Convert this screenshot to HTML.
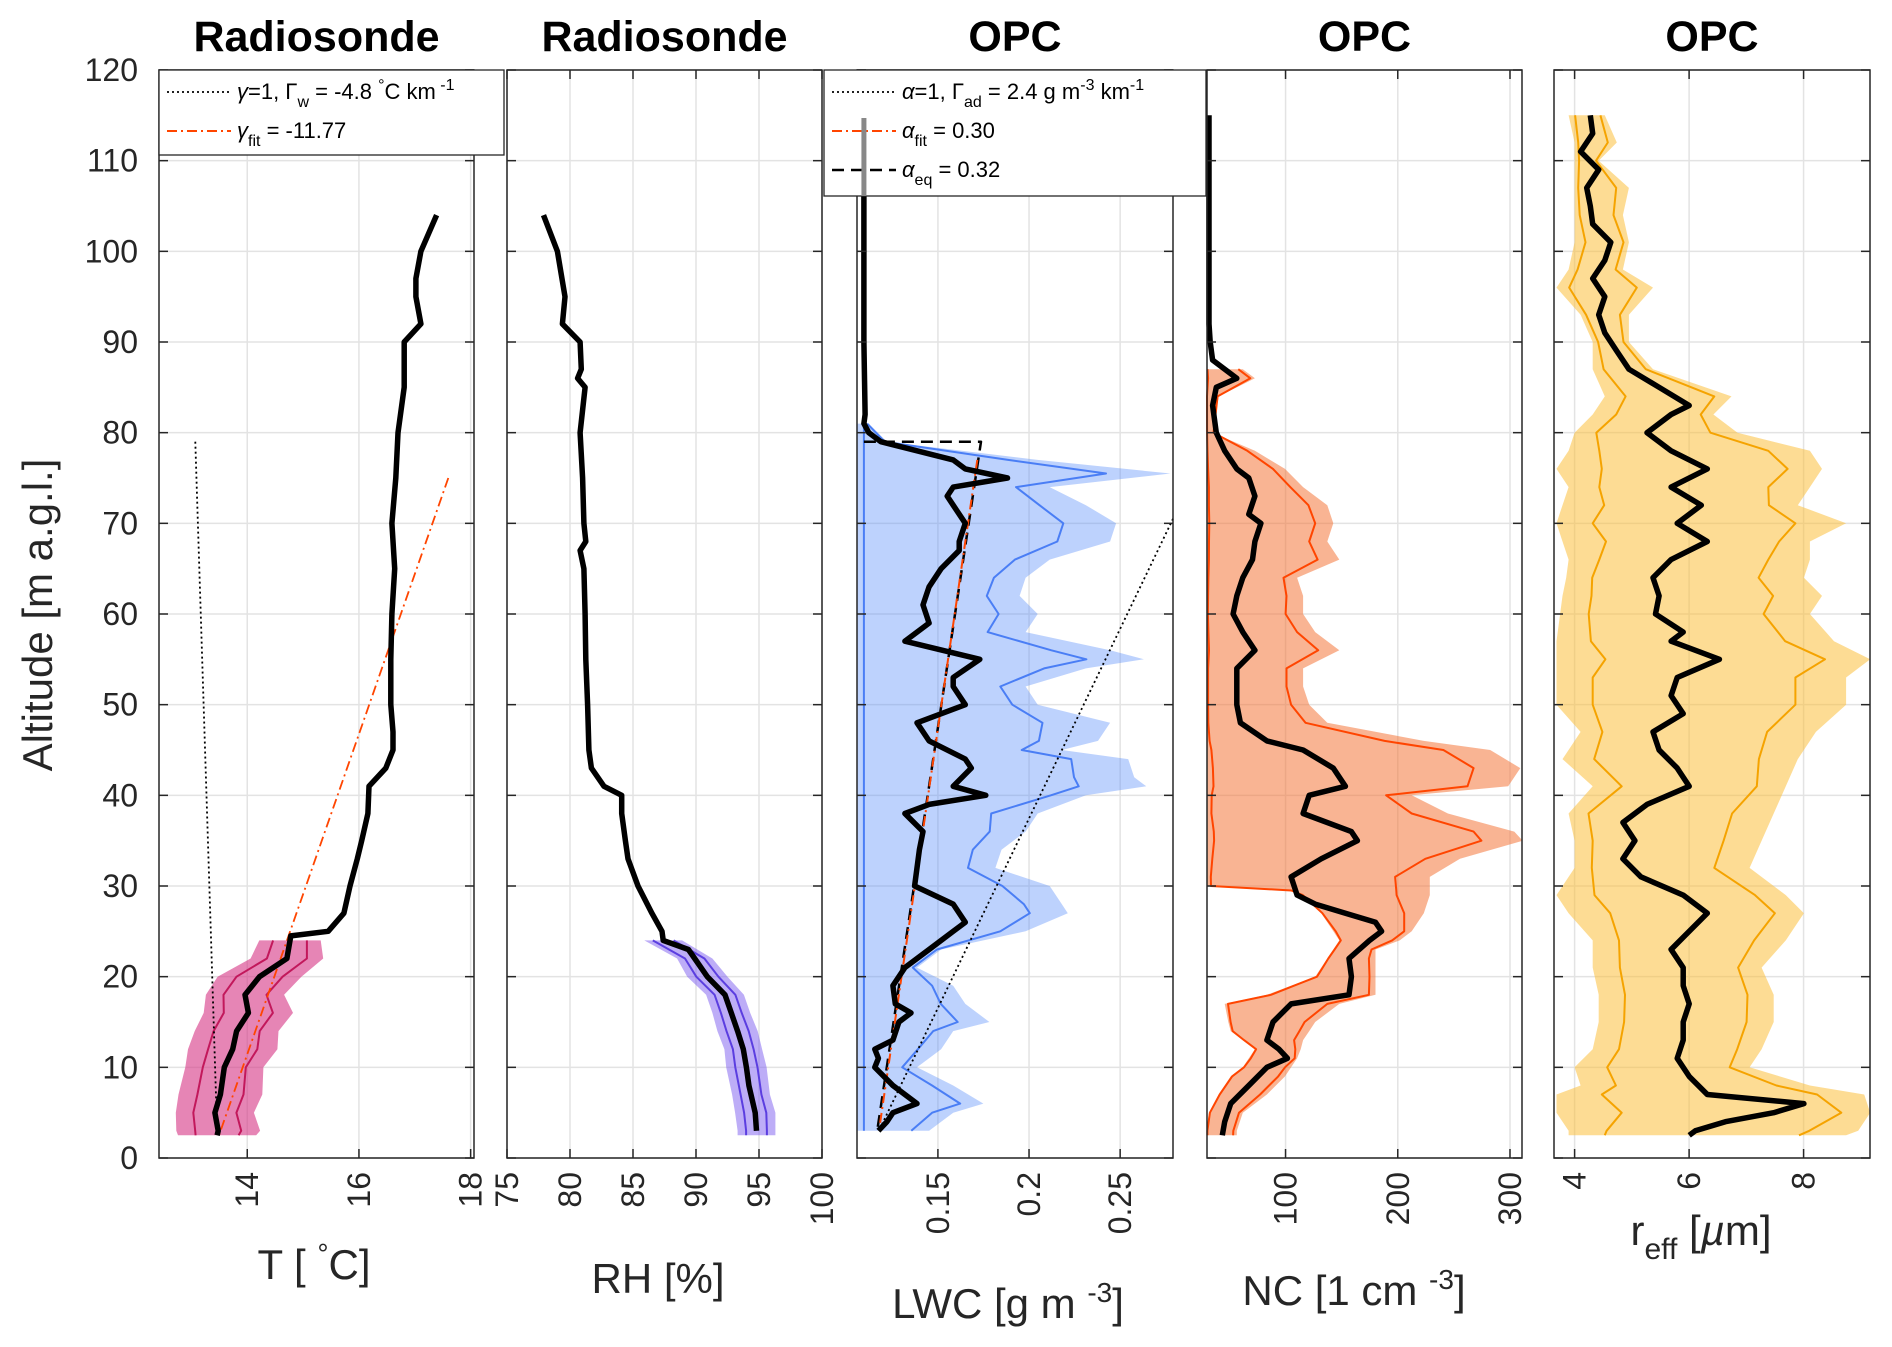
<!DOCTYPE html>
<html><head><meta charset="utf-8"><style>
body{margin:0;background:#fff;}
svg{display:block;font-family:"Liberation Sans",Arial,sans-serif;}
</style></head><body>
<svg id="chart" width="1892" height="1347" viewBox="0 0 1892 1347" xmlns="http://www.w3.org/2000/svg"></svg>
<script>
// ---------- data ----------
const yTicks=[0,10,20,30,40,50,60,70,80,90,100,110,120];
// Panel 1: temperature
const tAlt=[104,100,97,95,92,90,85,80,75,70,65,60,55,50,47,45,43,41,38,35,33,30,27,25,24.5,22,20,18,16,14,12,10,7,5,3,2.5];
const tVal=[17.39,17.11,17.02,17.02,17.11,16.81,16.81,16.70,16.66,16.59,16.64,16.59,16.57,16.57,16.61,16.61,16.48,16.18,16.16,16.05,15.97,15.84,15.73,15.45,14.78,14.71,14.22,13.96,14.02,13.81,13.74,13.59,13.52,13.42,13.48,13.46];
const tBandAlt=[24,22,20,18,16,14,12,10,7,5,3,2.5];
const tBandHalf=[0.55,0.65,0.75,0.7,0.8,0.75,0.8,0.7,0.75,0.7,0.75,0.7];
const tTicks=[14,16,18];
// Panel 2: RH
const rhAlt=[104,100,95,92,90,87,86,85,80,75,70,68,67,65,60,55,50,45,43,41,40,38,35,33,30,27,25,24,23,22,20,18,16,14,12,10,8,5,3];
const rhVal=[77.9,79.0,79.6,79.4,80.8,80.9,80.6,81.2,80.8,81.0,81.1,81.25,80.8,81.1,81.2,81.25,81.4,81.5,81.7,82.7,84.1,84.1,84.4,84.6,85.4,86.5,87.3,87.4,89.4,89.9,90.9,92.3,92.8,93.3,93.75,94.0,94.2,94.7,94.8];
const rhBandHalf=[1.5,1.4,1.6,1.5,1.5,1.6,1.5,1.6,1.5,1.6,1.5,1.5];
const rhTicks=[75,80,85,90,95,100];
// Panel 3: LWC
const lwcAlt=[115,90,82,81,80,79,78,77,76,75,74,73,72,70,68,67,65,63,61,59,57,55,53,52,50,48,46,44,43,41,40,39,38,36,34,32,30,28,26,25,23,21,19,17,16,15,13,12,11,10,8,6,5,4,3];
const lwcX=[716,716,717,716,720,730,760,790,800,835,790,785,790,800,795,795,780,770,765,770,750,812,790,790,800,760,770,800,805,790,817,770,750,765,762,760,758,790,800,790,770,750,740,742,755,745,740,725,728,725,740,760,740,735,728];
const lwcBandAlt=[81,79,77,75.5,74,72,70,68,66,64,62,60,58,56,55,54,52,50,48,46,45,44,42,41,40,38,36,34,32,30,28,27,25,23,21,19,17,15,14,12,10,8,6,5,3];
const lwcUpperX=[720,735,860,970,870,900,925,920,870,850,845,860,850,920,948,900,850,860,920,910,880,935,940,950,900,860,850,830,825,870,880,885,850,780,760,790,800,820,790,780,760,790,815,790,770];
const lwcTicks=[0.15,0.2,0.25];
// Panel 4: NC
const ncAlt=[115,92,90,88,87,86,85,83,80,78,76,75,73,71,70,68,66,64,62,60,58,56,54,52,50,48,46,45,43,41,40,38,36,35,33,31,29,28,27,26,25,24,22,20,18,17,15,13,12,11,10,8,6,4,2.5];
const ncX=[1002,1002,1003,1005,1015,1025,1008,1005,1008,1015,1025,1035,1040,1035,1045,1040,1038,1030,1025,1022,1030,1040,1025,1025,1025,1028,1050,1080,1105,1115,1085,1080,1120,1125,1095,1070,1075,1090,1115,1140,1145,1135,1118,1120,1118,1070,1055,1050,1060,1067,1050,1035,1020,1015,1013];
const ncBandAlt=[87,86,84,80,78,76,74,72,70,68,66,64,62,60,58,56,54,52,50,48,46,45,43,41,40,38,36,35,33,31,30,29.5,29,27,25,24,23,22,21,20,19,18,17,15,14,13,12,11,10,9,7,5,3,2.5];
const ncUpperX=[1030,1040,1010,1005,1040,1065,1080,1100,1105,1100,1110,1075,1080,1080,1090,1110,1080,1080,1085,1100,1180,1235,1260,1250,1170,1200,1255,1262,1210,1185,1185,1185,1185,1180,1170,1160,1140,1140,1140,1140,1140,1140,1110,1090,1085,1080,1078,1075,1070,1065,1050,1030,1025,1025];
const ncLowerX=[1000,1000,1000,1000,1000,1000,1000,1000,1000,1000,1000,1000,1000,1000,1000,1000,1000,1000,1000,1000,1000,1000,1000,1000,1000,1000,1000,1000,1000,1000,1000,1070,1080,1095,1105,1110,1105,1100,1095,1090,1070,1050,1015,1018,1020,1030,1040,1035,1030,1020,1010,1002,1000,1000];
const ncTicks=[100,200,300];
// Panel 5: r_eff
const reAlt=[115,113,111,109,107,105,103,101,99,97,95,93,91,89,87,85,83,82,80,78,76,74,72,70,68,66,64,62,60,58,57,55,53,51,49,47,45,43,41,39,37,35,33,31,29,27,25,23,21,19,17,15,13,11,9,7,6,5,4,3,2.5];
const reX=[1318,1320,1310,1325,1315,1318,1320,1335,1330,1320,1330,1325,1330,1340,1350,1375,1400,1385,1365,1385,1415,1385,1410,1390,1415,1385,1370,1375,1372,1395,1385,1425,1390,1385,1395,1370,1375,1390,1400,1365,1345,1355,1345,1360,1395,1415,1400,1385,1395,1395,1400,1395,1395,1390,1400,1415,1495,1470,1430,1405,1400];
const reBandAlt=[115,112,110,107,104,101,98,96,93,90,87,84,82,80,78,76,74,72,70,68,66,64,62,60,57,55,53,50,47,44,41,38,35,32,29,27,24,21,18,15,12,10,8,7,5,3,2.5];
const reLowerX=[1300,1305,1305,1305,1305,1305,1300,1290,1310,1320,1320,1330,1320,1305,1300,1290,1300,1295,1290,1295,1300,1298,1295,1293,1290,1290,1290,1290,1310,1295,1320,1300,1305,1305,1290,1300,1320,1320,1325,1325,1320,1305,1310,1290,1290,1300,1300];
const reUpperX=[1330,1340,1325,1350,1345,1350,1345,1370,1350,1350,1370,1435,1420,1440,1500,1510,1500,1490,1530,1500,1500,1495,1510,1500,1520,1550,1530,1530,1505,1490,1480,1470,1460,1450,1480,1495,1480,1460,1470,1470,1460,1450,1500,1545,1550,1540,1530];
const reTicks=[4,6,8];

// ---------- layout ----------
const S=1.2066;
const NS="http://www.w3.org/2000/svg";
const svg=document.getElementById('chart');
const Y0=1158,Y1=70;
const yS=a=>Y0+(Y1-Y0)*a/120;
const panels=[
 {x0:159,x1:474,d:[12.42,18.06]},
 {x0:507,x1:822,d:[75,100]},
 {x0:857,x1:1173,d:[0.1056,0.279]},
 {x0:1207,x1:1522,d:[30,310.7]},
 {x0:1554,x1:1870,d:[3.64,9.16]}];
panels.forEach(p=>{p.x=v=>p.x0+(p.x1-p.x0)*(v-p.d[0])/(p.d[1]-p.d[0]);
 p.inv=vx=>p.d[0]+(vx*S-p.x0)/(p.x1-p.x0)*(p.d[1]-p.d[0]);});
function el(tag,attrs,parent){const e=document.createElementNS(NS,tag);for(const k in attrs)e.setAttribute(k,attrs[k]);(parent||svg).appendChild(e);return e;}
const pts=(xs,ys)=>xs.map((x,i)=>x.toFixed(1)+','+ys[i].toFixed(1)).join(' ');
function interp(alts,vals,a){for(let i=0;i<alts.length-1;i++){const a0=alts[i],a1=alts[i+1];if((a<=a0&&a>=a1)){const t=(a-a0)/(a1-a0||1);return vals[i]+t*(vals[i+1]-vals[i]);}}return vals[a>alts[0]?0:vals.length-1];}

const titles=['Radiosonde','Radiosonde','OPC','OPC','OPC'];
const tickSets=[tTicks,rhTicks,lwcTicks,ncTicks,reTicks];

panels.forEach((p,i)=>{
 const g=el('g',{});
 
 
 p.g=g;
 yTicks.forEach(t=>{const l=el('line',{x1:p.x0,x2:p.x1,y1:yS(t),y2:yS(t),stroke:'#e3e3e3','stroke-width':1.5},g);});
 tickSets[i].forEach(t=>{const l=el('line',{x1:p.x(t),x2:p.x(t),y1:Y1,y2:Y0,stroke:'#e3e3e3','stroke-width':1.5},g);});
 const ti=el('text',{x:(p.x0+p.x1)/2,y:51,'text-anchor':'middle','font-size':43,'font-weight':'bold',fill:'#000'},svg);
 ti.textContent=titles[i];
 
 
});

function axesFrame(p,i){
 const g=el('g',{});
 
 
 el('rect',{x:p.x0,y:Y1,width:p.x1-p.x0,height:Y0-Y1,fill:'none',stroke:'#262626','stroke-width':1.5},g);
 yTicks.forEach(t=>{el('line',{x1:p.x0,x2:p.x0+9,y1:yS(t),y2:yS(t),stroke:'#262626','stroke-width':1.5},g);el('line',{x1:p.x1-9,x2:p.x1,y1:yS(t),y2:yS(t),stroke:'#262626','stroke-width':1.5},g);});
 tickSets[i].forEach(t=>{el('line',{x1:p.x(t),x2:p.x(t),y1:Y0,y2:Y0-9,stroke:'#262626','stroke-width':1.5},g);el('line',{x1:p.x(t),x2:p.x(t),y1:Y1,y2:Y1+9,stroke:'#262626','stroke-width':1.5},g);
  const tx=el('text',{transform:`translate(${p.x(t)+11},${Y0+14}) rotate(-90)`,'text-anchor':'end','font-size':32,fill:'#262626'},svg);
  tx.textContent=t;
  
  
 });
}

function band(p,alts,lo,hi,fill,op){
 const xs=[],ys=[];
 alts.forEach((a,k)=>{xs.push(p.x(hi[k]));ys.push(yS(a));});
 for(let k=alts.length-1;k>=0;k--){xs.push(p.x(lo[k]));ys.push(yS(alts[k]));}
 const b=el('polygon',{points:pts(xs,ys),fill:fill,'fill-opacity':op,stroke:'none'},p.g);
 
 
}
function line(p,alts,vals,color,w,dash,name){
 const l=el('polyline',{points:pts(vals.map(p.x),alts.map(yS)),fill:'none',stroke:color,'stroke-width':w,'stroke-linejoin':'round','stroke-dasharray':dash||'none'},p.g);
 
 
}

// Panel 1
(()=>{const p=panels[0];
 const c=tBandAlt.map(a=>interp(tAlt,tVal,a));
 band(p,tBandAlt,c.map((v,k)=>v-tBandHalf[k]),c.map((v,k)=>v+tBandHalf[k]),'#d63384',0.6);
 line(p,tBandAlt,c.map((v,k)=>v-tBandHalf[k]*0.55),'#c2185b',2,null,'band-inner-line');
 line(p,tBandAlt,c.map((v,k)=>v+tBandHalf[k]*0.55),'#c2185b',2,null,'band-inner-line');
 line(p,[79,3],[13.07,13.46],'#000',1.8,'2,3','gamma-1-line');
 line(p,[75,2.6],[17.6,13.5],'#ff4500',1.8,'10,4,2,4','gamma-fit-line');
 line(p,tAlt,tVal,'#000',5.5,null,'temperature-profile');
})();
// Panel 2
(()=>{const p=panels[1];
 const c=tBandAlt.map(a=>interp(rhAlt,rhVal,a));
 band(p,tBandAlt,c.map((v,k)=>v-rhBandHalf[k]),c.map((v,k)=>v+rhBandHalf[k]),'#7b5cf0',0.5);
 line(p,tBandAlt,c.map((v,k)=>v-rhBandHalf[k]*0.55),'#5b3ee0',2,null,'band-inner-line');
 line(p,tBandAlt,c.map((v,k)=>v+rhBandHalf[k]*0.55),'#5b3ee0',2,null,'band-inner-line');
 line(p,rhAlt,rhVal,'#000',5.5,null,'rh-profile');
})();
// Panel 3
(()=>{const p=panels[2];
 const up=lwcUpperX.map(x=>p.inv(x));
 const lo=lwcBandAlt.map(()=>p.d[0]);
 band(p,lwcBandAlt,lo,up,'#5b8ff9',0.4);
 const blk=lwcBandAlt.map(a=>interp(lwcAlt,lwcX,a));
 line(p,lwcBandAlt,lwcBandAlt.map((a,k)=>p.inv(blk[k]+0.65*(lwcUpperX[k]-blk[k]))),'#4a7ef5',2,null,'band-inner-line');
 line(p,lwcBandAlt,lwcBandAlt.map(()=>p.inv(716)),'#4a7ef5',2,null,'band-inner-line');
 line(p,[70.5,3],[0.279,0.1176],'#000',1.8,'2,3','alpha-1-line');
 line(p,[79,79,3],[p.inv(716),p.inv(813),p.inv(727)],'#000',2.5,'12,7','alpha-eq-line');
 line(p,[77,3.5],[p.inv(810),p.inv(729)],'#ff4500',2,'10,4,2,4','alpha-fit-line');
 line(p,lwcAlt,lwcX.map(x=>p.inv(x)),'#000',5.5,null,'lwc-profile');
})();
// Panel 4
(()=>{const p=panels[3];
 band(p,ncBandAlt,ncLowerX.map(x=>p.inv(x)),ncUpperX.map(x=>p.inv(x)),'#f4773a',0.55);
 const blk=ncBandAlt.map(a=>interp(ncAlt,ncX,a));
 line(p,ncBandAlt,ncBandAlt.map((a,k)=>p.inv(blk[k]+0.75*(ncUpperX[k]-blk[k]))),'#ff4500',2,null,'band-inner-line');
 line(p,ncBandAlt,ncBandAlt.map((a,k)=>p.inv(blk[k]+0.95*(ncLowerX[k]-blk[k]))),'#ff4500',2,null,'band-inner-line');
 line(p,ncAlt,ncX.map(x=>p.inv(x)),'#000',5.5,null,'nc-profile');
})();
// Panel 5
(()=>{const p=panels[4];
 band(p,reBandAlt,reLowerX.map(x=>p.inv(x)),reUpperX.map(x=>p.inv(x)),'#fbbf3c',0.55);
 const blk=reBandAlt.map(a=>interp(reAlt,reX,a));
 line(p,reBandAlt,reBandAlt.map((a,k)=>p.inv(blk[k]+0.7*(reUpperX[k]-blk[k]))),'#f5a300',2,null,'band-inner-line');
 line(p,reBandAlt,reBandAlt.map((a,k)=>p.inv(blk[k]+0.7*(reLowerX[k]-blk[k]))),'#f5a300',2,null,'band-inner-line');
 line(p,reAlt,reX.map(x=>p.inv(x)),'#000',5.5,null,'reff-profile');
})();

panels.forEach((p,i)=>axesFrame(p,i));

yTicks.forEach(t=>{const tx=el('text',{x:138,y:yS(t)+11,'text-anchor':'end','font-size':32,fill:'#262626'});
 tx.textContent=t;
 
 });
const yl=el('text',{transform:'translate(52,615) rotate(-90)','text-anchor':'middle','font-size':42,fill:'#262626'});
yl.textContent='Altitude [m a.g.l.]';



function xTitle(x,y,html,name){const t=el('text',{x:x,y:y,'text-anchor':'middle','font-size':42,fill:'#262626'});t.innerHTML=html;}
xTitle(314,1279,'T [ <tspan dy="-16" font-size="28">°</tspan><tspan dy="16">C]</tspan>','x-axis-title-t');
xTitle(658,1293,'RH [%]','x-axis-title-rh');
xTitle(1008,1318,'LWC [g m <tspan dy="-16" font-size="28">-3</tspan><tspan dy="16">]</tspan>','x-axis-title-lwc');
xTitle(1354,1305,'NC [1 cm <tspan dy="-16" font-size="28">-3</tspan><tspan dy="16">]</tspan>','x-axis-title-nc');
xTitle(1701,1245,'r<tspan dy="14" font-size="30">eff</tspan><tspan dy="-14"> [</tspan><tspan font-style="italic">µ</tspan>m]','x-axis-title-reff');

function legend(x,y,w,h,items,name){
 const g=el('g',{});
 
 
 el('rect',{x:x,y:y,width:w,height:h,fill:'#fff',stroke:'#262626','stroke-width':1.3},g);
 items.forEach((it,k)=>{const yy=y+22+k*39;
  el('line',{x1:x+8,x2:x+72,y1:yy,y2:yy,stroke:it.c,'stroke-width':it.w,'stroke-dasharray':it.d},g);
  const t=el('text',{x:x+78,y:yy+7,'font-size':22,fill:'#000'},g);t.innerHTML=it.t;
  
  });
}
legend(159,70,345,85,[
 {c:'#000',w:1.8,d:'2,3',t:'<tspan font-style="italic">γ</tspan>=1,  Γ<tspan dy="8" font-size="16">w</tspan><tspan dy="-8"> = -4.8 </tspan><tspan dy="-9" font-size="16">°</tspan><tspan dy="9">C km</tspan><tspan dy="-9" font-size="16"> -1</tspan>'},
 {c:'#ff4500',w:2,d:'10,4,2,4',t:'<tspan font-style="italic">γ</tspan><tspan dy="8" font-size="16">fit</tspan><tspan dy="-8"> = -11.77</tspan>'}],'legend-temperature');
legend(824,70,382,126,[
 {c:'#000',w:1.8,d:'2,3',t:'<tspan font-style="italic">α</tspan>=1,  Γ<tspan dy="8" font-size="16">ad</tspan><tspan dy="-8"> = 2.4 g m</tspan><tspan dy="-9" font-size="16">-3</tspan><tspan dy="9"> km</tspan><tspan dy="-9" font-size="16">-1</tspan>'},
 {c:'#ff4500',w:2,d:'10,4,2,4',t:'<tspan font-style="italic">α</tspan><tspan dy="8" font-size="16">fit</tspan><tspan dy="-8"> = 0.30</tspan>'},
 {c:'#000',w:2.5,d:'12,7',t:'<tspan font-style="italic">α</tspan><tspan dy="8" font-size="16">eq</tspan><tspan dy="-8"> = 0.32</tspan>'}],'legend-lwc');
const gl=el('line',{x1:panels[2].x(panels[2].inv(716)),x2:panels[2].x(panels[2].inv(716)),y1:118,y2:196,stroke:'#888','stroke-width':5});


</script>
</body></html>
